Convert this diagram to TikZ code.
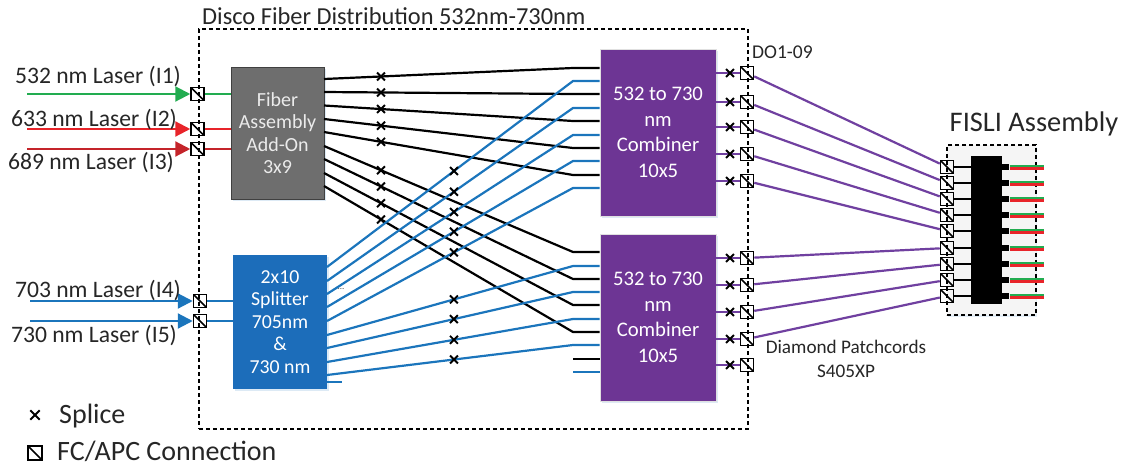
\documentclass[tikz,border=0pt]{standalone}
\usepackage{fontspec}
\usepackage{xcolor}
\setmainfont{Carlito}
\usetikzlibrary{arrows.meta, shapes.misc, shadows}
\definecolor{fibreblue}{HTML}{1B75BC}
\definecolor{fibregreen}{HTML}{22AC50}
\definecolor{fibrered}{HTML}{E8242A}
\definecolor{fibredark}{HTML}{C4242A}
\definecolor{fibrepurple}{HTML}{7040A0}
\definecolor{boxgray}{HTML}{6E6E6E}
\definecolor{boxblue}{HTML}{1C6DBA}
\definecolor{boxpurple}{HTML}{6D3594}
\tikzset{
  lbl/.style={font=\fontsize{23.6}{28}\selectfont, inner sep=0pt, text=black!85},
  unitbox/.style={rectangle, inner sep=0pt, align=center, text=white, draw=black!12, line width=.8pt,
    drop shadow={shadow xshift=1.5pt, shadow yshift=-2pt, opacity=.15, fill=fibreblue}},
  splice/.style={cross out, draw=black, line width=1.9pt, minimum size=6pt, inner sep=0pt, solid},
  fcapc/.style={rectangle, draw=black, line width=1.5pt, minimum size=13pt, inner sep=0pt,
    path picture={\draw[black, line width=1.5pt] (path picture bounding box.north west) -- (path picture bounding box.south east);}},
  dashbox/.style={draw=black, line width=1.9pt, dash pattern=on 4pt off 3pt},
  fibre/.style={line width=2.2pt},
  laser/.style={line width=2.2pt, -{Triangle[length=15pt, width=15pt]}},
}
\begin{document}
\begin{tikzpicture}[x=1pt, y=-1pt]
  \useasboundingbox (0,0) rectangle (1121,466);

  % Boites en pointilles
  \node[dashbox, rectangle, inner sep=0pt, minimum width=549pt, minimum height=400pt] (disco) at (473.5,229) {};
  \node[lbl, anchor=west, font=\fontsize{24.4}{28}\selectfont] (discotitle) at (202,16) {Disco Fiber Distribution 532nm-730nm};
  \node[dashbox, rectangle, inner sep=0pt, fill=black!4, minimum width=89pt, minimum height=170pt,
    drop shadow={shadow xshift=1pt, shadow yshift=-2pt, opacity=.12, fill=fibreblue}] (fisli) at (991.5,230) {};
  \node[font=\fontsize{28.4}{32}\selectfont, inner sep=0pt, text=black!85] (fislititle) at (1034,124) {FISLI Assembly};

  % Blocs
  \node[unitbox, fill=boxgray, text=white!92!black, minimum width=93pt, minimum height=132pt, draw=black!75, font=\fontsize{20}{22.5}\selectfont] (addon) at (277.5,133)
    {Fiber\\Assembly\\Add-On\\3x9};
  \node[unitbox, fill=boxblue, minimum width=94pt, minimum height=134pt, draw=none, font=\fontsize{19.8}{22.5}\selectfont] (splitter) at (280,322)
    {2x10\\Splitter\\705nm\\\&\\730 nm};
  \node[unitbox, fill=boxpurple, minimum width=116pt, minimum height=167pt, font=\fontsize{20.7}{25.5}\selectfont] (combA) at (658,132.5)
    {532 to 730\\nm\\Combiner\\10x5};
  \node[unitbox, fill=boxpurple, minimum width=116pt, minimum height=167pt, font=\fontsize{20.7}{25.5}\selectfont] (combB) at (658,317.5)
    {532 to 730\\nm\\Combiner\\10x5};

  % Entrees laser
  \node[fcapc] (fc1) at (197.5,94) {};
  \node[fcapc] (fc2) at (197.5,129) {};
  \node[fcapc] (fc3) at (197.5,149) {};
  \node[fcapc] (fc4) at (200,301) {};
  \node[fcapc] (fc5) at (200,321) {};
  \coordinate (in1) at (27,94);
  \coordinate (in2) at (27,129);
  \coordinate (in3) at (27,149);
  \coordinate (in4) at (30,301);
  \coordinate (in5) at (30,321);
  \draw[laser, fibregreen] (in1) -- (fc1);
  \draw[laser, fibrered] (in2) -- (fc2);
  \draw[laser, fibredark] (in3) -- (fc3);
  \draw[laser, fibreblue] (in4) -- (fc4);
  \draw[laser, fibreblue] (in5) -- (fc5);
  \draw[fibre, fibregreen] (fc1) -- (fc1 -| addon.west);
  \draw[fibre, fibrered] (fc2) -- (fc2 -| addon.west);
  \draw[fibre, fibredark] (fc3) -- (fc3 -| addon.west);
  \draw[fibre, fibreblue] (fc4) -- (fc4 -| splitter.west);
  \draw[fibre, fibreblue] (fc5) -- (fc5 -| splitter.west);
  \node[lbl] (labI1) at (98,77) {532 nm Laser (I1)};
  \node[lbl] (labI2) at (94,120) {633 nm Laser (I2)};
  \node[lbl] (labI3) at (91,163) {689 nm Laser (I3)};
  \node[lbl] (labI4) at (98,291) {703 nm Laser (I4)};
  \node[lbl] (labI5) at (94,335) {730 nm Laser (I5)};

  % Fibres noires vers les combineurs
  \foreach \i/\ya/\yb in {1/79/68, 2/92/94, 3/105.5/121, 4/119/148, 5/132/175} {
    \coordinate (ga\i) at (324,\ya);
    \coordinate (ka\i) at (573,\yb);
    \draw[fibre, black] (ga\i) -- (ka\i) node[splice, pos=.229] (sga\i) {} -- (ka\i -| combA.west);
  }
  \foreach \i/\ya/\yb in {6/146/252, 7/159/279, 8/173/305, 9/186/332} {
    \coordinate (ga\i) at (324,\ya);
    \coordinate (ka\i) at (573,\yb);
    \draw[fibre, black] (ga\i) -- (ka\i) node[splice, pos=.229] (sga\i) {} -- (ka\i -| combB.west);
  }
  \coordinate (ka10) at (573,359);
  \draw[fibre, black] (ka10) -- (ka10 -| combB.west);

  % Fibres bleues
  \foreach \i/\ya/\yb in {1/267/81, 2/281/108, 3/294/135, 4/307/161, 5/321/188} {
    \coordinate (bl\i) at (327,\ya);
    \coordinate (kb\i) at (573,\yb);
    \draw[fibre, fibreblue] (bl\i) -- (kb\i) node[splice, pos=.516] (sbl\i) {} -- (kb\i -| combA.west);
  }
  \foreach \i/\ya/\yb in {6/335/266, 7/348/292, 8/362/319, 9/375/345} {
    \coordinate (bl\i) at (327,\ya);
    \coordinate (kb\i) at (573,\yb);
    \draw[fibre, fibreblue] (bl\i) -- (kb\i) node[splice, pos=.516] (sbl\i) {} -- (kb\i -| combB.west);
  }
  \coordinate (kb10) at (573,372);
  \draw[fibre, fibreblue] (kb10) -- (kb10 -| combB.west);
  \coordinate (bl10) at (327,382);
  \coordinate (blend) at (342,382);
  \draw[fibre, fibreblue] (bl10) -- (blend);
  \node[font=\fontsize{9}{9}\selectfont, inner sep=0pt, text=black!70] (dots) at (341,289) {...};

  % Bloc FISLI
  \node[rectangle, fill=black, inner sep=0pt, minimum width=31pt, minimum height=148pt] (chip) at (986.5,230) {};
  \foreach \i/\y in {1/167, 2/183, 3/199, 4/215, 5/231, 6/248, 7/264, 8/280, 9/296} {
    \node[fcapc] (fi\i) at (947,\y) {};
    \draw[line width=1.4pt, black] (fi\i) -- (fi\i -| chip.west);
    \node[rectangle, fill=black, inner sep=0pt, minimum width=7pt, minimum height=6.5pt, anchor=west] (tab\i) at (chip.east |- fi\i) {};
    \coordinate (tgt\i) at (1044,\y);
    \draw[line width=2pt, fibregreen] ([yshift=1.4pt]tab\i.east) -- ([yshift=1.4pt]tgt\i);
    \draw[line width=3pt, fibrered] ([yshift=-1pt]tab\i.east) -- ([yshift=-1pt]tgt\i);
  }

  % Sorties des combineurs
  \foreach \i/\y/\t in {1/73/1, 2/102/2, 3/127/3, 4/154/4, 5/181/5} {
    \node[fcapc] (dA\i) at (747,\y) {};
    \coordinate (cA\i) at (730,\y);
    \draw[fibre, fibrepurple] (dA\i -| combA.east) -- (dA\i) node[splice] (sA\i) at (cA\i) {};
    \draw[fibre, fibrepurple] (dA\i) -- (fi\t);
  }
  \foreach \i/\y/\t in {1/258/6, 2/285/7, 3/312/8, 4/339/9} {
    \node[fcapc] (dB\i) at (747,\y) {};
    \coordinate (cB\i) at (730,\y);
    \draw[fibre, fibrepurple] (dB\i -| combB.east) -- (dB\i) node[splice] (sB\i) at (cB\i) {};
    \draw[fibre, fibrepurple] (dB\i) -- (fi\t);
  }
  \node[fcapc] (dB5) at (747,365) {};
  \coordinate (cB5) at (730,365);
  \draw[fibre, fibrepurple] (dB5 -| combB.east) -- (dB5) node[splice] (sB5) at (cB5) {};

  \node[lbl, anchor=west, font=\fontsize{19.5}{24}\selectfont] (dolabel) at (752,52) {DO1-09};
  \node[lbl, align=center, font=\fontsize{19.2}{24}\selectfont] (patchlabel) at (846,359) {Diamond Patchcords\\S405XP};

  % Legende
  \node[splice, minimum size=7.5pt] (legsplice) at (35,415) {};
  \node[lbl, anchor=west, font=\fontsize{28}{32}\selectfont] (legsplicetxt) at (59,416) {Splice};
  \node[fcapc, minimum size=14pt] (legfc) at (35,453) {};
  \node[lbl, anchor=west, font=\fontsize{28}{32}\selectfont] (legfctxt) at (57,451.5) {FC/APC Connection};
\end{tikzpicture}
\end{document}
